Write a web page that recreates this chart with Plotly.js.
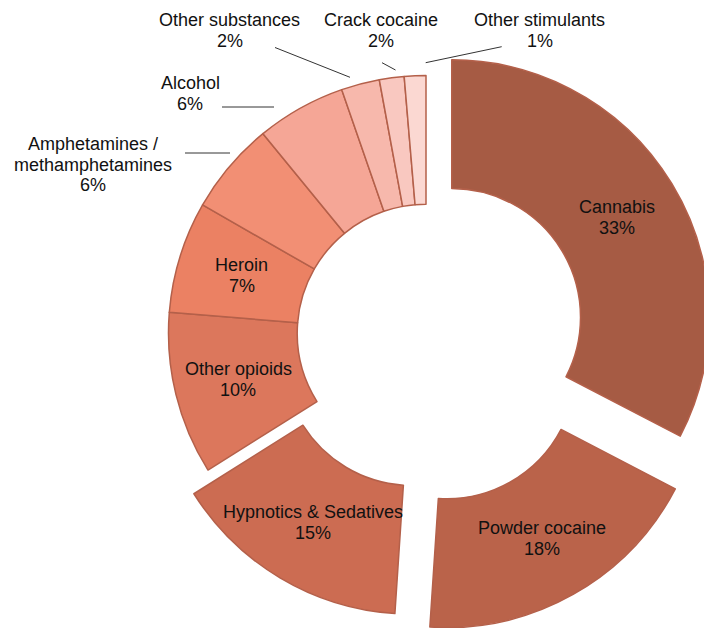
<!DOCTYPE html>
<html>
<head>
<meta charset="utf-8">
<script src="https://cdn.plot.ly/plotly-3.0.1.min.js"></script>
<style>
  html, body { margin: 0; padding: 0; overflow: hidden; background: #fff; }
  #chart { width: 760px; height: 680px; }
</style>
</head>
<body>
<div id="chart"></div>
<script>
// ---- data ----
const categories = ['Cannabis', 'Powder cocaine', 'Hypnotics & Sedatives', 'Other opioids', 'Heroin',
  'Amphetamines / methamphetamines', 'Alcohol', 'Other substances', 'Crack cocaine', 'Other stimulants'];
const labelLines = [['Cannabis'], ['Powder cocaine'], ['Hypnotics & Sedatives'], ['Other opioids'], ['Heroin'],
  ['Amphetamines /', 'methamphetamines'], ['Alcohol'], ['Other substances'], ['Crack cocaine'], ['Other stimulants']];
const shares = [32.6, 18.4, 15.0, 10.2, 7.0, 5.8, 5.6, 2.4, 1.55, 1.35];

// ---- style ----
const colors = ['#A65B44', '#BA634A', '#CC6C52', '#DC775C', '#EB8163', '#F28F74', '#F5A696', '#F7B8AC', '#F9C8C0', '#FBD8D2'];
const pulls = [0.117, 0.165, 0.107, 0, 0, 0, 0, 0, 0, 0];
const W = 760, H = 680;
const dom = { x: [126 / W, 726 / W], y: [1 - 633 / H, 1 - 33 / H] };
const hole = 0.5;
const fontFam = 'Arial, "Liberation Sans", sans-serif';
const fontSize = 18;
const lineStep = 21;

// outside label placements (pixel centers) for small slices
const outsidePos = { 5: [93, 164.5], 6: [190, 93.5], 7: [229.5, 30], 8: [381, 30], 9: [539.5, 30] };
const leaderLines = [
  [185, 153, 230, 153],
  [222, 107, 274, 107],
  [275, 47.5, 350, 77.3],
  [382, 62.7, 395.5, 70],
  [425.7, 62.7, 501.7, 46.7]
];

const total = shares.reduce((a, b) => a + b, 0);
const pctText = shares.map(v => Math.round(v / total * 100) + '%');

// geometry (mirrors plotly's pie sizing) for placing label annotations
const boxW = W * (dom.x[1] - dom.x[0]);
const boxH = H * (dom.y[1] - dom.y[0]);
const maxPull = Math.max(...pulls);
const R = Math.min(boxW, boxH) / 2 / (1 + maxPull);
const cx = W * (dom.x[0] + dom.x[1]) / 2;
const cy = H * (1 - dom.y[0]) - boxH / 2;
const rMid = R * (1 + hole) / 2;

const annotations = [];
function addLabel(px, py, lines) {
  const n = lines.length;
  lines.forEach((t, i) => {
    annotations.push({
      xref: 'paper', yref: 'paper',
      x: px / W, y: 1 - (py + (i - (n - 1) / 2) * lineStep) / H,
      xanchor: 'center', yanchor: 'middle',
      text: t, showarrow: false,
      font: { family: fontFam, size: fontSize, color: '#111' }
    });
  });
}

let cum = 0;
shares.forEach((v, i) => {
  const theta = 2 * Math.PI * (cum + v / 2) / total;
  cum += v;
  const lines = labelLines[i].concat([pctText[i]]);
  if (outsidePos[i]) {
    addLabel(outsidePos[i][0], outsidePos[i][1], lines);
  } else {
    const d = pulls[i] * R + rMid;
    addLabel(cx + d * Math.sin(theta), cy - d * Math.cos(theta), lines);
  }
});

const shapes = leaderLines.map(l => ({
  type: 'line', xref: 'paper', yref: 'paper',
  x0: l[0] / W, y0: 1 - l[1] / H, x1: l[2] / W, y1: 1 - l[3] / H,
  line: { color: '#333', width: 1 }
}));

const trace = {
  type: 'pie',
  labels: categories,
  values: shares,
  hole: hole,
  pull: pulls,
  sort: false,
  direction: 'clockwise',
  rotation: 0,
  textinfo: 'none',
  textposition: 'none',
  marker: { colors: colors, line: { color: '#B4604A', width: 1.5 } },
  domain: dom,
  showlegend: false
};

Plotly.newPlot('chart', [trace], {
  width: W, height: H,
  margin: { l: 0, r: 0, t: 0, b: 0 },
  paper_bgcolor: '#fff',
  showlegend: false,
  annotations: annotations,
  shapes: shapes
}, { displayModeBar: false, staticPlot: true });
</script>
</body>
</html>
